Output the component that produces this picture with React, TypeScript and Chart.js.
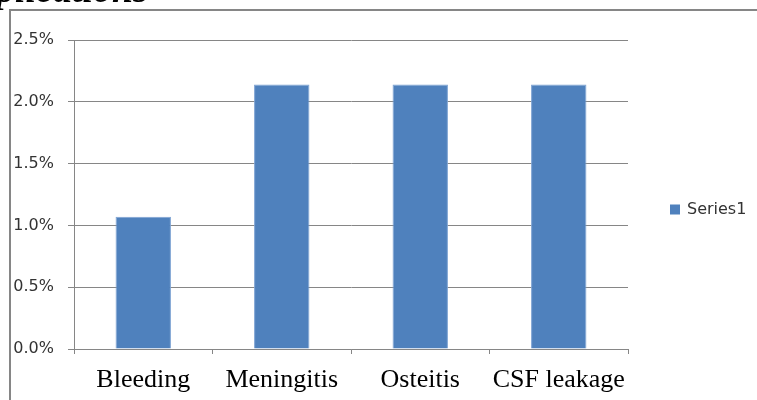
import React, { useEffect, useRef } from "react";
import { Chart, registerables } from "chart.js";

Chart.register(...registerables);

const categories = ["Bleeding", "Meningitis", "Osteitis", "CSF leakage"];
const series1 = [0.0107, 0.0214, 0.0214, 0.0214];
const seriesName = "Series1";
const titleText = "plications";

const BAR_BLUE = "#4F81BD";
const AXIS_GRAY = "#868686";

// Outer frame, clipped title and the legend entry on the right.
const decorations = {
  id: "decorations",
  beforeDraw(chart: any) {
    const { ctx, width, height } = chart;
    ctx.save();
    ctx.fillStyle = "#ffffff";
    ctx.fillRect(0, 0, width, height);
    ctx.restore();
  },
  afterDraw(chart: any) {
    const { ctx, width, height, chartArea } = chart;
    ctx.save();
    // frame
    ctx.strokeStyle = AXIS_GRAY;
    ctx.lineWidth = 2;
    ctx.beginPath();
    ctx.moveTo(10, height);
    ctx.lineTo(10, 10);
    ctx.lineTo(width, 10);
    ctx.stroke();

    // title, only its lower part fits on the page
    ctx.fillStyle = "#000000";
    ctx.font = "italic bold 38px 'Liberation Serif', 'Times New Roman', serif";
    ctx.textBaseline = "alphabetic";
    ctx.textAlign = "left";
    ctx.fillText(titleText, -4, 2);

    // legend
    const ly = (chartArea.top + chartArea.bottom) / 2 + 15;
    ctx.fillStyle = BAR_BLUE;
    ctx.fillRect(670, ly - 5, 10, 10);
    ctx.fillStyle = "#333333";
    ctx.font = "16px 'DejaVu Sans', sans-serif";
    ctx.textBaseline = "middle";
    ctx.fillText(seriesName, 687, ly);
    ctx.restore();
  },
};

export default function App() {
  const canvasRef = useRef<HTMLCanvasElement | null>(null);

  useEffect(() => {
    const canvas = canvasRef.current;
    if (!canvas) return;
    const chart = new Chart(canvas, {
      type: "bar",
      data: {
        labels: categories,
        datasets: [
          {
            label: seriesName,
            data: series1,
            backgroundColor: BAR_BLUE,
            borderColor: "#7ea3d3",
            borderWidth: 1,
            barPercentage: 0.4,
            categoryPercentage: 1,
          },
        ],
      },
      options: {
        responsive: false,
        animation: false,
        devicePixelRatio: 1,
        layout: { padding: { left: 10, right: 129, top: 40, bottom: 0 } },
        plugins: {
          legend: { display: false },
          tooltip: { enabled: false },
          title: { display: false },
        },
        scales: {
          x: {
            offset: true,
            afterFit(scale: any) {
              scale.height = 51;
            },
            grid: {
              offset: true,
              drawOnChartArea: false,
              drawTicks: true,
              tickLength: 5,
              color: AXIS_GRAY,
              lineWidth: 1,
            },
            border: { display: true, color: AXIS_GRAY, width: 1 },
            ticks: {
              color: "#000000",
              padding: 11,
              maxRotation: 0,
              autoSkip: false,
              font: { family: "'Liberation Serif', 'Times New Roman', serif", size: 26 },
            },
          },
          y: {
            min: 0,
            max: 0.025,
            afterFit(scale: any) {
              scale.width = 64;
            },
            grid: {
              color: AXIS_GRAY,
              lineWidth: 1,
              drawTicks: true,
              tickLength: 6,
            },
            border: { display: true, color: AXIS_GRAY, width: 1 },
            ticks: {
              stepSize: 0.005,
              color: "#333333",
              padding: 14,
              font: { family: "'DejaVu Sans', sans-serif", size: 16 },
              callback: (v: any) => (Number(v) * 100).toFixed(1) + "%",
            },
          },
        },
      },
      plugins: [decorations],
    });
    return () => chart.destroy();
  }, []);

  return (
    <div style={{ position: "fixed", left: 0, top: 0, width: 757, height: 400, background: "#fff" }}>
      <canvas ref={canvasRef} width={757} height={400} style={{ display: "block" }} />
    </div>
  );
}
